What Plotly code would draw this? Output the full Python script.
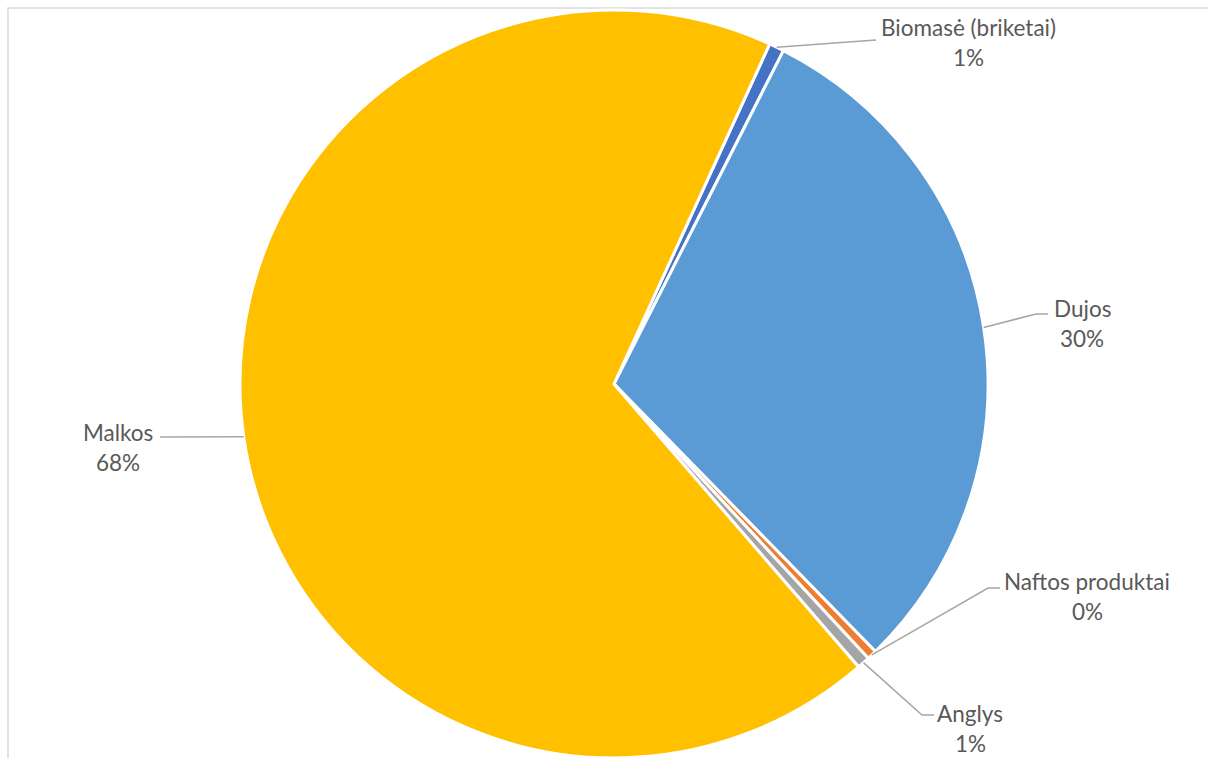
import math
import plotly.graph_objects as go

# ---- data ----
categories = ["Biomasė (briketai)", "Dujos", "Naftos produktai", "Anglys", "Malkos"]
shares = [0.65, 30.2, 0.42, 0.55, 68.18]
colors = ["#4472C4", "#5B9BD5", "#ED7D31", "#A5A5A5", "#FFC000"]

# ---- layout constants ----
W, H = 1208, 758
CX, CY, R = 614, 384, 374
START_DEG = 24.6

# label placement (pixels): elbow point, label centre x, name y
label_layout = {
    "Biomasė (briketai)": dict(elbow=(876, 40), end=(876, 40), tx=968, ty=27),
    "Dujos": dict(elbow=(1036, 314), end=(1048, 314), tx=1082, ty=309),
    "Naftos produktai": dict(elbow=(988, 588), end=(1000, 588), tx=1087, ty=581),
    "Anglys": dict(elbow=(922, 715), end=(934, 715), tx=970, ty=713),
    "Malkos": dict(elbow=(160, 437), end=(160, 437), tx=118, ty=432),
}

def px(x):
    return x / W

def py(y):
    return 1 - y / H

fig = go.Figure()
fig.add_trace(go.Pie(
    labels=categories,
    values=shares,
    sort=False,
    direction="clockwise",
    rotation=START_DEG,
    marker=dict(colors=colors, line=dict(color="white", width=3)),
    textinfo="none",
    hoverinfo="label+percent",
    domain=dict(x=[px(CX - R), px(CX + R)], y=[py(CY + R), py(CY - R)]),
    showlegend=False,
))

total = sum(shares)
cum = 0.0
shapes = []
annotations = []
font = dict(family="Lato, 'Open Sans', sans-serif", size=22.5, color="#595959")
for name, v in zip(categories, shares):
    mid = START_DEG + 360 * (cum + v / 2) / total
    cum += v
    a = math.radians(mid)
    ex = CX + R * math.sin(a)
    ey = CY - R * math.cos(a)
    L = label_layout[name]
    path = "M {} {} L {} {} L {} {}".format(
        px(ex), py(ey), px(L["elbow"][0]), py(L["elbow"][1]),
        px(L["end"][0]), py(L["end"][1]))
    shapes.append(dict(type="path", path=path, xref="paper", yref="paper",
                       line=dict(color="#A6A6A6", width=1.5)))
    pct = round(100 * v / total)
    annotations.append(dict(text=name, x=px(L["tx"]), y=py(L["ty"]), xref="paper", yref="paper",
                            showarrow=False, font=font, xanchor="center", yanchor="middle"))
    annotations.append(dict(text=f"{pct}%", x=px(L["tx"]), y=py(L["ty"] + 30), xref="paper", yref="paper",
                            showarrow=False, font=font, xanchor="center", yanchor="middle"))

# chart frame (partially visible)
shapes.append(dict(type="rect", xref="paper", yref="paper", layer="below",
                   x0=px(8), x1=px(1230), y0=py(8), y1=py(790),
                   line=dict(color="#D9D9D9", width=1.5)))

fig.update_layout(
    width=W, height=H,
    margin=dict(l=0, r=0, t=0, b=0),
    paper_bgcolor="white", plot_bgcolor="white",
    shapes=shapes, annotations=annotations,
)
fig.write_html("out.html", config={"displayModeBar": False},
               post_script="document.body.style.margin='0';document.body.style.overflow='hidden';")
